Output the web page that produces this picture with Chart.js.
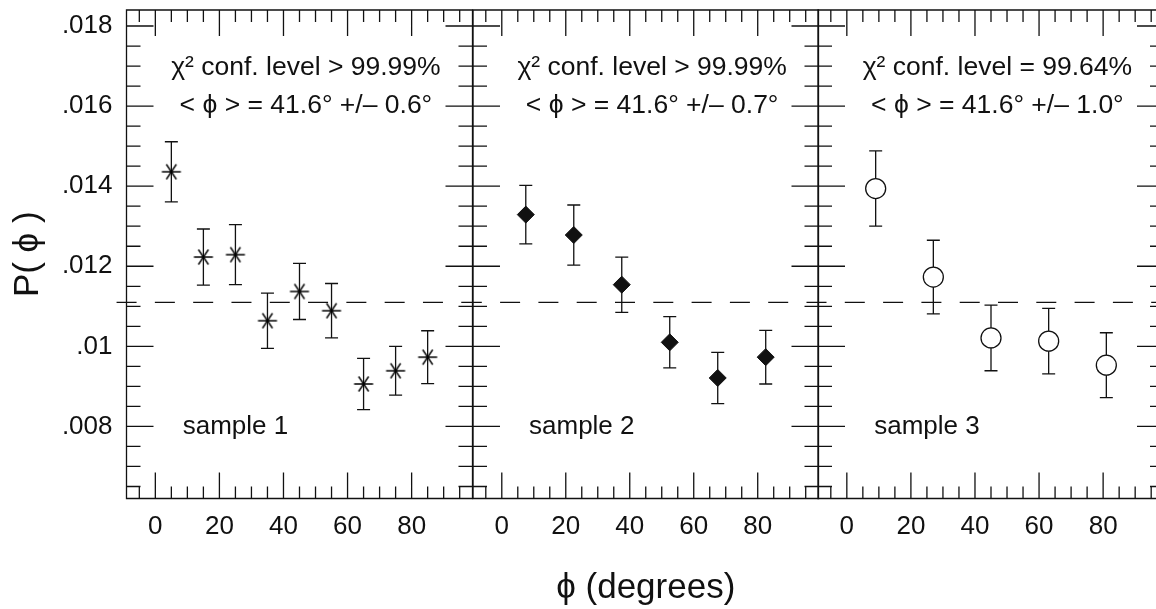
<!DOCTYPE html>
<html>
<head>
<meta charset="utf-8">
<script src="https://cdn.jsdelivr.net/npm/chart.js@4.4.1/dist/chart.umd.min.js"></script>
<style>
  html, body { margin: 0; padding: 0; background: #fff; }
  body { width: 1156px; height: 609px; overflow: hidden; position: relative; }
  canvas { position: absolute; top: 0; }
</style>
</head>
<body>
<canvas id="panel1" width="475" height="609" style="left:0px"></canvas>
<canvas id="panel2" width="352" height="609" style="left:469.5px"></canvas>
<canvas id="panel3" width="352" height="609" style="left:815px"></canvas>
<script>
// --- datos ---
const angles1 = [5, 15, 25, 35, 45, 55, 65, 75, 85];
const values1 = [0.01436, 0.01223, 0.01229, 0.01064, 0.01137, 0.01089, 0.00906, 0.00939, 0.00973];
const errors1 = [0.00075, 0.00070, 0.00075, 0.00069, 0.00070, 0.00068, 0.00064, 0.00061, 0.00066];

const angles2 = [7.5, 22.5, 37.5, 52.5, 67.5, 82.5];
const values2 = [0.01329, 0.01278, 0.01154, 0.01010, 0.00921, 0.00973];
const errors2 = [0.00073, 0.00075, 0.00069, 0.00064, 0.00064, 0.00067];

const angles3 = [9, 27, 45, 63, 81];
const values3 = [0.01394, 0.01173, 0.01021, 0.01013, 0.00953];
const errors3 = [0.00094, 0.00092, 0.00082, 0.00082, 0.00081];

const uniformLevel = 0.0111;   // linea discontinua (1/90)

const xTicks = [0, 20, 40, 60, 80];
const yTicks = [0.008, 0.010, 0.012, 0.014, 0.016, 0.018];
const yTickLabels = ['.008', '.01', '.012', '.014', '.016', '.018'];

const confTexts = ['\u03c7\u00b2 conf. level > 99.99%', '\u03c7\u00b2 conf. level > 99.99%', '\u03c7\u00b2 conf. level = 99.64%'];
const meanTexts = ['< \u03d5 > = 41.6\u00b0 +/\u2013 0.6\u00b0', '< \u03d5 > = 41.6\u00b0 +/\u2013 0.7\u00b0', '< \u03d5 > = 41.6\u00b0 +/\u2013 1.0\u00b0'];
const sampleTexts = ['sample 1', 'sample 2', 'sample 3'];

// --- estilo ---
const ink = '#111';
const family = '"Liberation Sans", Arial, Helvetica, "DejaVu Sans", sans-serif';
const xMin = -9, xMax = 99;
const yMin = 0.0062, yMax = 0.0184;

// marcador asterisco (panel 1)
function makeAsterisk() {
    const c = document.createElement('canvas');
    c.width = 22; c.height = 18;
    const g = c.getContext('2d');
    g.strokeStyle = '#000';
    g.lineWidth = 1.4;
    g.beginPath();
    g.moveTo(1.5, 9); g.lineTo(20.5, 9);
    g.moveTo(6, 1.5); g.lineTo(16, 16.5);
    g.moveTo(16, 1.5); g.lineTo(6, 16.5);
    g.stroke();
    return c;
}

// barras de error, dibujadas antes de los marcadores
const errorBars = {
    id: 'errorBars',
    beforeDatasetsDraw(chart) {
        const { ctx, scales: { x, y } } = chart;
        ctx.save();
        ctx.strokeStyle = ink;
        ctx.lineWidth = 1.3;
        chart.data.datasets.forEach(ds => {
            if (!ds.errors) return;
            ds.data.forEach((p, i) => {
                const px = x.getPixelForValue(p.x);
                const top = y.getPixelForValue(p.y + ds.errors[i]);
                const bot = y.getPixelForValue(p.y - ds.errors[i]);
                ctx.beginPath();
                ctx.moveTo(px, top); ctx.lineTo(px, bot);
                ctx.moveTo(px - 6.5, top); ctx.lineTo(px + 6.5, top);
                ctx.moveTo(px - 6.5, bot); ctx.lineTo(px + 6.5, bot);
                ctx.stroke();
            });
        });
        ctx.restore();
    }
};

// marco con ticks hacia dentro en los cuatro lados
const frameTicks = {
    id: 'frameTicks',
    afterDraw(chart) {
        const { ctx, chartArea: a, scales: { x, y } } = chart;
        ctx.save();
        ctx.strokeStyle = ink;
        ctx.lineWidth = 1.3;
        ctx.beginPath();
        for (let v = -5; v <= 95; v += 5) {
            const px = x.getPixelForValue(v);
            const len = v % 20 === 0 ? 26 : 12;
            ctx.moveTo(px, a.bottom); ctx.lineTo(px, a.bottom - len);
            ctx.moveTo(px, a.top); ctx.lineTo(px, a.top + len);
        }
        for (let k = 13; k <= 36; k++) {
            const py = y.getPixelForValue(k * 0.0005);
            const len = k % 4 === 0 ? 27 : 14;
            ctx.moveTo(a.left, py); ctx.lineTo(a.left + len, py);
            ctx.moveTo(a.right, py); ctx.lineTo(a.right - len, py);
        }
        ctx.rect(a.left, a.top, a.right - a.left, a.bottom - a.top);
        ctx.stroke();
        ctx.restore();
    }
};

// textos dentro de cada panel (en coordenadas de datos)
const notes = {
    id: 'notes',
    afterDatasetsDraw(chart, args, opts) {
        const { ctx, scales: { x, y } } = chart;
        ctx.save();
        ctx.fillStyle = ink;
        ctx.textAlign = 'center';
        ctx.textBaseline = 'middle';
        opts.items.forEach(t => {
            ctx.font = t.size + 'px ' + family;
            ctx.fillText(t.text, x.getPixelForValue(t.x), y.getPixelForValue(t.y));
        });
        ctx.restore();
    }
};

function createConfig(i, angles, values, errors, marker, dashStart, dashOffset) {
    const first = i === 0;
    return {
        type: 'scatter',
        data: {
            datasets: [{
                data: angles.map((a, k) => ({ x: a, y: values[k] })),
                errors: errors,
                ...marker
            }, {
                data: [{ x: dashStart, y: uniformLevel }, { x: xMax, y: uniformLevel }],
                showLine: true,
                pointRadius: 0,
                borderColor: ink,
                borderWidth: 1.3,
                borderDash: [20, 18.3],
                borderDashOffset: dashOffset,
                clip: false
            }]
        },
        options: {
            responsive: false,
            animation: false,
            events: [],
            layout: {
                autoPadding: false,
                padding: { left: first ? 0 : 3, right: first ? 2.5 : (i === 1 ? 3.5 : 3), top: 10, bottom: 0 }
            },
            scales: {
                x: {
                    type: 'linear', min: xMin, max: xMax,
                    grid: { display: false, drawTicks: false },
                    border: { display: false },
                    afterBuildTicks: s => { s.ticks = xTicks.map(v => ({ value: v })); },
                    afterFit: s => { s.height = 110.5; s.paddingLeft = 0; s.paddingRight = 0; },
                    ticks: { autoSkip: false, maxRotation: 0, padding: 13, color: ink,
                             font: { size: 26, family: family } },
                    title: { display: i === 1, text: '\u03d5 (degrees)', color: ink,
                             font: { size: 35, family: family }, padding: { top: 0, bottom: 0 } }
                },
                y: {
                    type: 'linear', min: yMin, max: yMax,
                    display: first,
                    grid: { display: false, drawTicks: false },
                    border: { display: false },
                    afterBuildTicks: s => { s.ticks = yTicks.map(v => ({ value: v })); },
                    afterFit: s => { if (first) s.width = 126.5; s.paddingTop = 0; s.paddingBottom = 0; },
                    ticks: { padding: 14, color: ink, font: { size: 26, family: family },
                             callback: (v, k) => yTickLabels[k] },
                    title: { display: first, text: 'P( \u03d5 )', color: ink,
                             font: { size: 35, family: family }, padding: { top: 7, bottom: 0 } }
                }
            },
            plugins: {
                legend: { display: false },
                tooltip: { enabled: false },
                notes: {
                    items: [
                        { text: confTexts[i], x: 47, y: 0.01695, size: 26.5 },
                        { text: meanTexts[i], x: 47, y: 0.01600, size: 26.5 },
                        { text: sampleTexts[i], x: 25, y: 0.00800, size: 26 }
                    ]
                }
            }
        },
        plugins: [errorBars, frameTicks, notes]
    };
}

const markers = [
    { pointStyle: makeAsterisk(), pointRadius: 9 },
    { pointStyle: 'rectRot', pointRadius: 8.5, backgroundColor: ink, borderColor: ink, borderWidth: 1 },
    { pointStyle: 'circle', pointRadius: 10, backgroundColor: '#fff', borderColor: ink, borderWidth: 1.3 }
];

new Chart(document.getElementById('panel1'),
    createConfig(0, angles1, values1, errors1, markers[0], -12.1, 0));
new Chart(document.getElementById('panel2'),
    createConfig(1, angles2, values2, errors2, markers[1], xMin, 11.2));
new Chart(document.getElementById('panel3'),
    createConfig(2, angles3, values3, errors3, markers[2], xMin, 11.5));
</script>
</body>
</html>
